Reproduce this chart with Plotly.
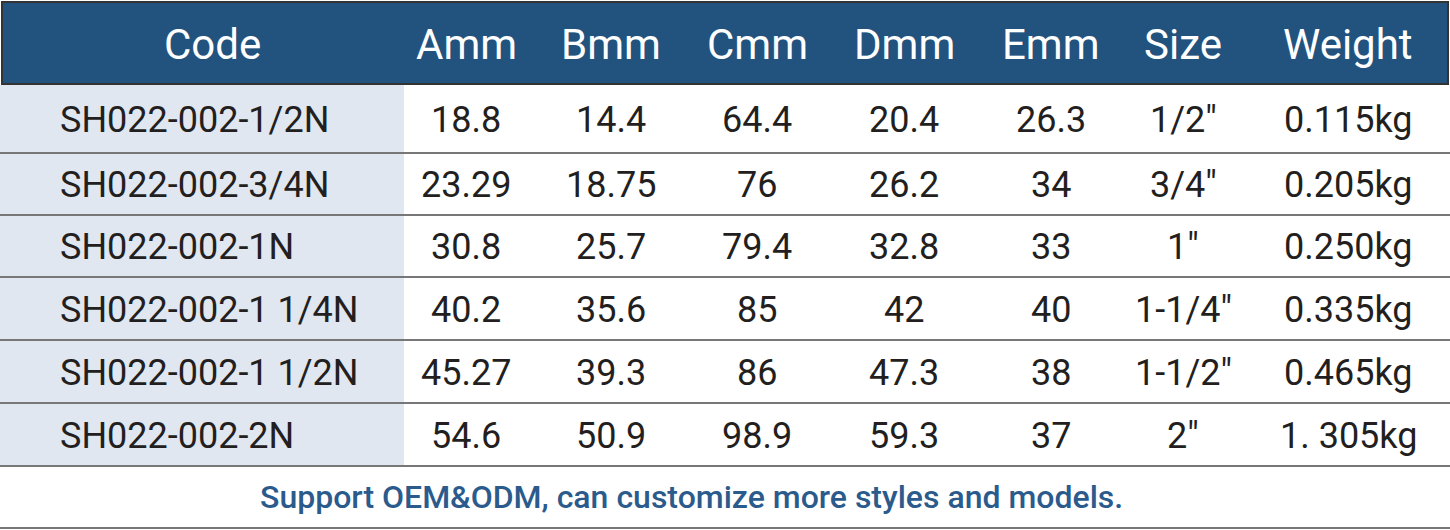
import plotly.graph_objects as go

headers = ["Code", "Amm", "Bmm", "Cmm", "Dmm", "Emm", "Size", "Weight"]
codes = ["SH022-002-1/2N", "SH022-002-3/4N", "SH022-002-1N", "SH022-002-1 1/4N", "SH022-002-1 1/2N", "SH022-002-2N"]
a_mm = ["18.8", "23.29", "30.8", "40.2", "45.27", "54.6"]
b_mm = ["14.4", "18.75", "25.7", "35.6", "39.3", "50.9"]
c_mm = ["64.4", "76", "79.4", "85", "86", "98.9"]
d_mm = ["20.4", "26.2", "32.8", "42", "47.3", "59.3"]
e_mm = ["26.3", "34", "33", "40", "38", "37"]
sizes = ['1/2"', '3/4"', '1"', '1-1/4"', '1-1/2"', '2"']
weights = ["0.115kg", "0.205kg", "0.250kg", "0.335kg", "0.465kg", "1. 305kg"]
footer = "Support OEM&ODM, can customize more styles and models."

col_x = [212, 466, 611, 757, 904, 1051, 1183, 1348]
row_edges = [84, 153, 215, 277, 340, 403, 466]
FONT = "Roboto"

fig = go.Figure()
fig.add_trace(go.Scatter(x=[0, 1450], y=[0, 530], mode="markers", marker=dict(opacity=0), hoverinfo="skip", showlegend=False))

shapes = []
ann = []
shapes.append(dict(type="rect", x0=2, x1=1448, y0=2, y1=84, fillcolor="#22537f", line=dict(color="#333", width=2)))
for h, x in zip(headers, col_x):
    ann.append(dict(x=x, y=44, text=h, showarrow=False, font=dict(family=FONT, size=42, color="white", weight=400), xanchor="center", yanchor="middle"))
shapes.append(dict(type="rect", x0=0, x1=404, y0=85, y1=466, fillcolor="#e1e7f1", line=dict(width=0), layer="below"))
for y in row_edges[1:]:
    shapes.append(dict(type="line", x0=0, x1=1450, y0=y, y1=y, line=dict(color="#777", width=2)))
shapes.append(dict(type="line", x0=0, x1=1450, y0=528, y1=528, line=dict(color="#777", width=2)))

cols = [a_mm, b_mm, c_mm, d_mm, e_mm, sizes, weights]
for i in range(6):
    yc = (row_edges[i] + row_edges[i + 1]) / 2 + 1
    ann.append(dict(x=58, y=yc, text=codes[i], showarrow=False, font=dict(family=FONT, size=36, color="#231f20", weight=400), xanchor="left", yanchor="middle"))
    for col, x in zip(cols, col_x[1:]):
        ann.append(dict(x=x, y=yc, text=col[i], showarrow=False, font=dict(family=FONT, size=36, color="#231f20", weight=400), xanchor="center", yanchor="middle"))

ann.append(dict(x=691, y=497, text=footer, showarrow=False, font=dict(family=FONT, size=32, color="#2b5b8c", weight=500), xanchor="center", yanchor="middle"))

fig.update_layout(width=1450, height=530, margin=dict(l=0, r=0, t=0, b=0),
                  plot_bgcolor="white", paper_bgcolor="white", shapes=shapes, annotations=ann,
                  xaxis=dict(range=[0, 1450], visible=False, fixedrange=True),
                  yaxis=dict(range=[530, 0], visible=False, fixedrange=True))
fig.write_html("out.html", config={"displayModeBar": False},
               post_script="document.body.style.margin='0px';")
